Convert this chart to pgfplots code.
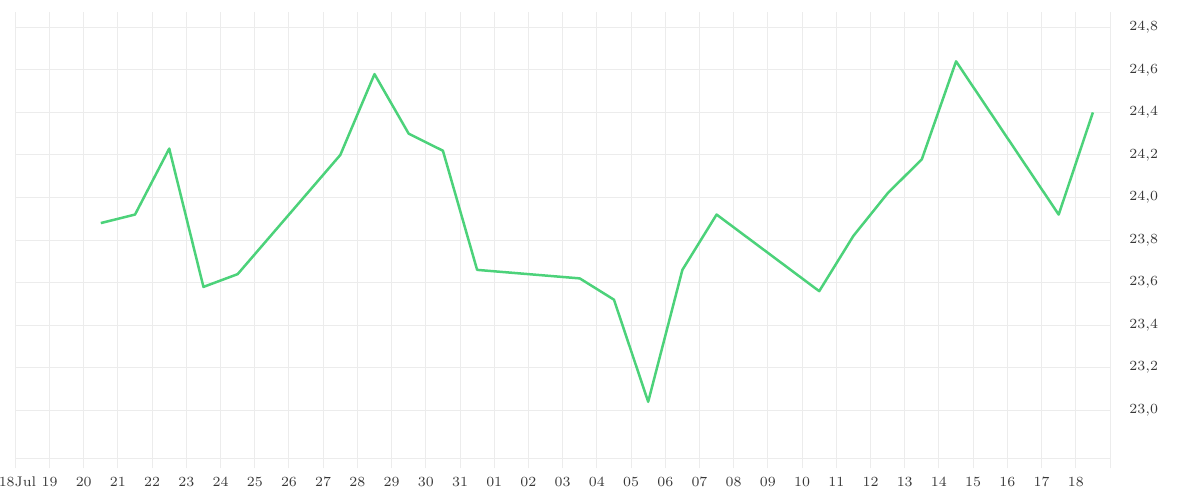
\documentclass[border=0pt]{standalone}
\usepackage{pgfplots}
\pgfplotsset{compat=1.18}
\definecolor{gridgray}{RGB}{236,236,236}
\definecolor{linegreen}{RGB}{76,210,122}
\definecolor{labgray}{RGB}{55,55,55}
\begin{document}
\begin{tikzpicture}
\useasboundingbox (-7.65pt,-20.65pt) rectangle (592.35pt,229.35pt);
\begin{axis}[
  scale only axis,
  width=547.35pt, height=223.2pt,
  xmin=0, xmax=32,
  ymin=22.7726, ymax=24.8705,
  axis line style={draw=none},
  xtick={0,...,32},
  xticklabels={\hspace{2.2pt}18Jul,19,20,21,22,23,24,25,26,27,28,29,30,31,01,02,03,04,05,06,07,08,09,10,11,12,13,14,15,16,17,18,{}},
  ytick={23.0,23.2,...,24.81},
  yticklabel pos=right,
  xtick pos=bottom,
  tick align=outside,
  major tick length=4.8pt,
  xtick style={draw=gridgray, line width=0.5pt},
  ytick style={draw=none},
  grid=major,
  major grid style={draw=gridgray, line width=0.5pt},
  tick label style={font=\fontsize{7}{8}\selectfont, text=labgray},
  x tick label style={anchor=north, yshift=-0.8pt},
  y tick label style={anchor=west, xshift=1.4pt},
  /pgf/number format/.cd, use comma, fixed, fixed zerofill, precision=1,
]
\draw[gridgray, line width=0.5pt] (rel axis cs:0,0) -- (rel axis cs:1,0);
\addplot[color=linegreen, line width=1.25pt, mark=none, line join=round] coordinates {
(2.5,23.88) (3.5,23.92) (4.5,24.23) (5.5,23.58) (6.5,23.64)
(9.5,24.20) (10.5,24.58) (11.5,24.30) (12.5,24.22) (13.5,23.66)
(16.5,23.62) (17.5,23.52) (18.5,23.04) (19.5,23.66) (20.5,23.92)
(23.5,23.56) (24.5,23.82) (25.5,24.02) (26.5,24.18) (27.5,24.64)
(30.5,23.92) (31.5,24.40)
};
\end{axis}
\end{tikzpicture}
\end{document}
